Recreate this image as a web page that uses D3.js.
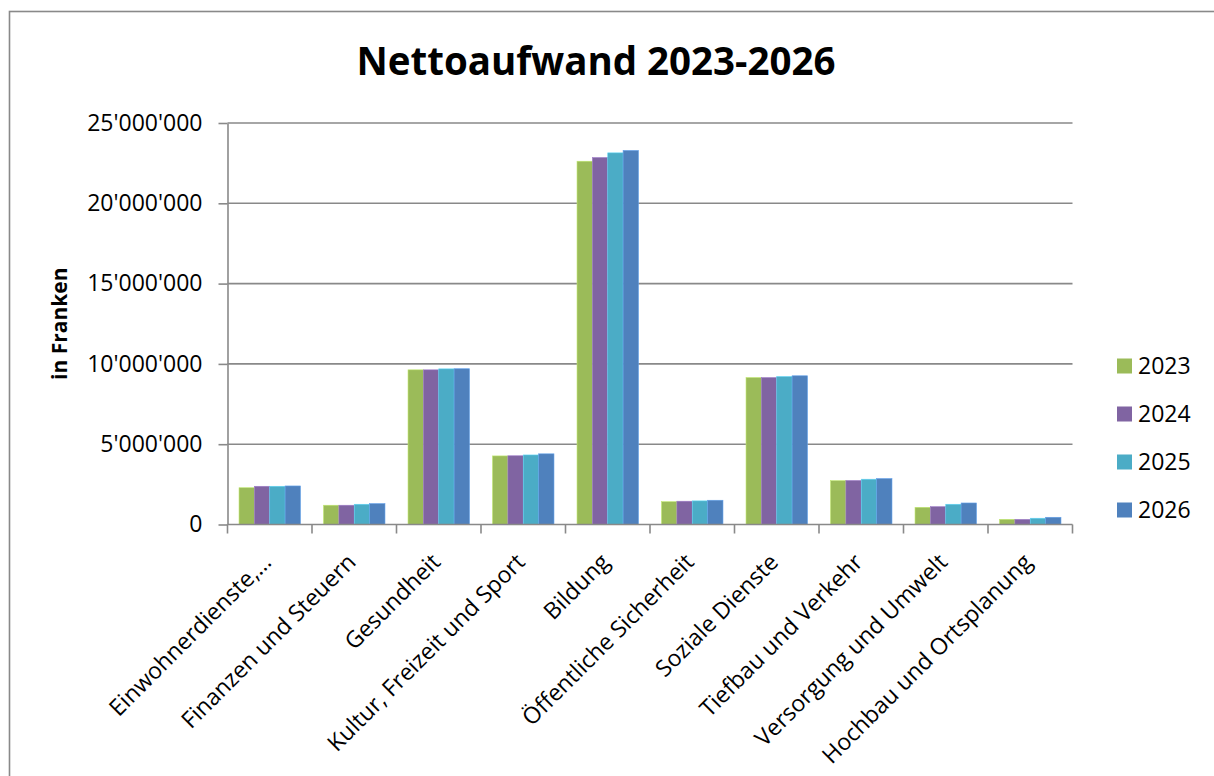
<!DOCTYPE html>
<html>
<head>
<meta charset="utf-8">
<script src="https://cdn.jsdelivr.net/npm/d3@7"></script>
<style>
  html, body { margin: 0; padding: 0; background: #fff; }
  svg { display: block; }
  text { font-family: "Open Sans", "DejaVu Sans", sans-serif; fill: #000; }
</style>
</head>
<body>
<svg id="chart" width="1214" height="776"></svg>
<script>
const categories = [
  "Einwohnerdienste,…",
  "Finanzen und Steuern",
  "Gesundheit",
  "Kultur, Freizeit und Sport",
  "Bildung",
  "Öffentliche Sicherheit",
  "Soziale Dienste",
  "Tiefbau und Verkehr",
  "Versorgung und Umwelt",
  "Hochbau und Ortsplanung"
];
const years = ["2023", "2024", "2025", "2026"];
const values2023 = [2290000, 1200000, 9630000, 4270000, 22620000, 1420000, 9150000, 2730000, 1070000, 320000];
const values2024 = [2380000, 1200000, 9630000, 4280000, 22850000, 1450000, 9150000, 2740000, 1110000, 320000];
const values2025 = [2380000, 1260000, 9690000, 4330000, 23140000, 1470000, 9210000, 2820000, 1260000, 390000];
const values2026 = [2400000, 1300000, 9700000, 4400000, 23290000, 1510000, 9260000, 2860000, 1340000, 450000];
const yTicks = [0, 5000000, 10000000, 15000000, 20000000, 25000000];
const colors = ["#9BBB59", "#8064A2", "#4BACC6", "#4F81BD"];
const title = "Nettoaufwand 2023-2026";
const yTitle = "in Franken";

const series = [values2023, values2024, values2025, values2026];

const svg = d3.select("#chart");
const gray = "#898989";

// outer frame
svg.append("rect")
  .attr("x", 9.5).attr("y", 11.5)
  .attr("width", 1230).attr("height", 800)
  .attr("fill", "none").attr("stroke", gray).attr("stroke-width", 1.6);

const plot = { left: 227.5, right: 1072.5, top: 123, bottom: 524.5 };

const y = d3.scaleLinear().domain([0, 25000000]).range([plot.bottom, plot.top]);
const x = d3.scaleBand().domain(categories).range([plot.left, plot.right]).padding(0);
const xi = d3.scaleBand().domain(years).range([0, x.bandwidth()]).paddingInner(0).paddingOuter(0.75);

const locale = d3.formatLocale({ decimal: ".", thousands: "'", grouping: [3], currency: ["", ""] });
const fmt = locale.format(",");

// gridlines
svg.append("g").selectAll("line").data(yTicks.filter(d => d > 0)).join("line")
  .attr("x1", plot.left).attr("x2", plot.right)
  .attr("y1", d => y(d)).attr("y2", d => y(d))
  .attr("stroke", gray).attr("stroke-width", 1.6);

// bars
const groups = svg.append("g").selectAll("g").data(categories).join("g")
  .attr("transform", d => `translate(${x(d)},0)`);
groups.selectAll("rect")
  .data((c, i) => years.map((yr, j) => ({ yr, v: series[j][i], c: colors[j] })))
  .join("rect")
  .attr("x", d => xi(d.yr))
  .attr("width", xi.bandwidth())
  .attr("y", d => y(d.v))
  .attr("height", d => y(0) - y(d.v))
  .attr("fill", d => d.c)
  .attr("stroke", d => d3.color(d.c).brighter(0.6))
  .attr("stroke-width", 0.6);

// y axis
const yAxis = d3.axisLeft(y).tickValues(yTicks).tickFormat(fmt).tickSizeInner(9).tickSizeOuter(0).tickPadding(16);
const gy = svg.append("g").attr("transform", `translate(${plot.left},0)`).call(yAxis);
gy.select(".domain").attr("stroke", gray).attr("stroke-width", 1.6);
gy.selectAll(".tick line").attr("stroke", gray).attr("stroke-width", 1.6);
gy.selectAll(".tick text").style("font-size", "23px").attr("fill", "#000")
  .style("font-family", "'Open Sans', sans-serif");

// x axis line and ticks
svg.append("line")
  .attr("x1", plot.left).attr("x2", plot.right)
  .attr("y1", plot.bottom).attr("y2", plot.bottom)
  .attr("stroke", gray).attr("stroke-width", 1.6);
const bounds = categories.map(c => x(c)).concat([plot.right]);
svg.append("g").selectAll("line").data(bounds).join("line")
  .attr("x1", d => d).attr("x2", d => d)
  .attr("y1", plot.bottom).attr("y2", plot.bottom + 9)
  .attr("stroke", gray).attr("stroke-width", 1.6);

// x labels
svg.append("g").selectAll("text").data(categories).join("text")
  .attr("transform", d => `translate(${x(d) + x.bandwidth() / 2 + 3},${plot.bottom + 39}) rotate(-45)`)
  .attr("text-anchor", "end")
  .style("font-size", "23px")
  .text(d => d);

// title
svg.append("text")
  .attr("x", 596).attr("y", 75)
  .attr("text-anchor", "middle")
  .style("font-size", "38.5px").style("font-weight", "bold")
  .text(title);

// y title
svg.append("text")
  .attr("transform", `translate(67,${(plot.top + plot.bottom) / 2}) rotate(-90)`)
  .attr("text-anchor", "middle")
  .style("font-size", "21px").style("font-weight", "bold")
  .text(yTitle);

// legend
const legend = svg.append("g").selectAll("g").data(years).join("g")
  .attr("transform", (d, i) => `translate(1117,${366 + i * 48})`);
legend.append("rect")
  .attr("x", 0).attr("y", -7.5).attr("width", 15).attr("height", 15)
  .attr("fill", (d, i) => colors[i]);
legend.append("text")
  .attr("x", 21).attr("y", 0).attr("dy", "0.36em")
  .style("font-size", "23px")
  .text(d => d);
</script>
</body>
</html>
